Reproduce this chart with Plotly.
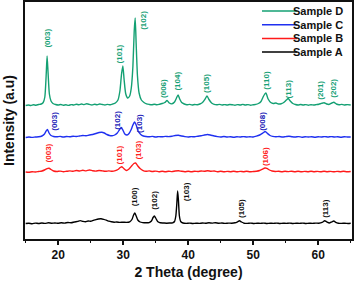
import plotly.graph_objects as go

# ---------------- data (2θ in degrees, intensity in a.u. above each pattern's own baseline) ----------------
sample_names = ["Sample D", "Sample C", "Sample B", "Sample A"]

pattern_D = [(15.0,0.5),(15.4,1.0),(15.8,0.5),(16.2,1.2),(16.6,0.8),(17.0,1.5),(17.4,2.0),(17.7,3.5),(17.95,9),
    (18.15,30),(18.3,50),(18.45,33),(18.65,12),(18.9,5),(19.2,2.5),(19.6,1.5),(20.0,1.0),(20.4,1.5),(20.8,0.8),
    (21.2,1.2),(21.6,0.6),(22.0,1.4),(22.4,1.0),(22.8,1.8),(23.2,1.2),(23.6,2.0),(24.0,1.4),(24.4,2.2),(24.8,1.6),
    (25.2,1.0),(25.6,1.8),(26.0,1.2),(26.4,2.0),(26.8,1.5),(27.2,1.0),(27.6,1.6),(28.0,1.2),(28.4,2.0),(28.8,3.0),
    (29.2,6),(29.5,15),(29.75,32),(29.95,40),(30.15,26),(30.4,12),(30.7,8),(31.0,10),(31.25,18),(31.5,40),
    (31.7,75),(31.85,88),(32.0,62),(32.2,30),(32.45,13),(32.8,6),(33.2,3.5),(33.6,2.2),(34.0,1.6),(34.4,1.2),
    (34.8,1.8),(35.2,1.2),(35.6,1.8),(36.0,2.5),(36.4,3.5),(36.75,5.5),(37.1,3.0),(37.5,2.2),(37.9,4.0),(38.2,8),
    (38.45,11),(38.7,7),(39.0,3.5),(39.4,2.0),(39.8,1.2),(40.2,1.6),(40.6,1.0),(41.0,1.5),(41.4,1.2),(41.8,2.0),
    (42.2,3.5),(42.6,7),(42.9,10),(43.2,6.5),(43.6,3.0),(44.0,1.6),(44.4,1.2),(44.8,1.6),(45.2,1.0),(45.6,1.4),
    (46.0,1.0),(46.4,1.5),(46.8,1.2),(47.2,0.8),(47.6,1.4),(48.0,1.0),(48.4,1.6),(48.8,1.0),(49.2,1.4),(49.6,0.8),
    (50.0,1.2),(50.4,1.6),(50.8,2.5),(51.2,4.5),(51.6,10),(51.95,13),(52.3,7),(52.7,3.5),(53.1,2.5),(53.5,3.0),
    (53.9,2.0),(54.3,2.2),(54.7,3.5),(55.1,6),(55.4,7.5),(55.7,5),(56.1,2.5),(56.5,1.5),(56.9,1.0),(57.3,1.5),
    (57.7,1.0),(58.1,1.4),(58.5,0.8),(58.9,1.3),(59.3,1.0),(59.7,1.4),(60.1,1.8),(60.5,2.6),(60.9,3.2),(61.3,2.0),
    (61.7,1.6),(62.1,3.0),(62.4,3.8),(62.8,2.0),(63.2,1.2),(63.6,1.6),(64.0,1.0),(64.5,1.4),(65.0,1.0)]

pattern_C = [(15.0,0.5),(15.5,1.0),(16.0,0.6),(16.5,1.0),(17.0,1.2),(17.5,2.0),(17.9,4.0),(18.15,7),(18.35,8.5),
    (18.6,5),(18.9,2.5),(19.3,1.5),(19.8,1.2),(20.3,1.6),(20.8,1.0),(21.3,1.5),(21.8,1.2),(22.3,1.8),(22.8,1.5),
    (23.3,2.0),(23.8,2.5),(24.3,2.2),(24.8,3.0),(25.3,3.5),(25.8,4.5),(26.3,5.5),(26.7,5.8),(27.1,5.0),(27.5,3.5),
    (27.9,2.5),(28.3,2.2),(28.7,3.0),(29.1,5),(29.45,8.5),(29.7,10.5),(29.95,8),(30.25,4),(30.6,3),(30.9,4.5),
    (31.2,8),(31.5,13),(31.75,16),(32.0,13),(32.3,7),(32.7,3.5),(33.1,2.0),(33.5,1.5),(34.0,1.2),(34.5,1.6),
    (35.0,1.0),(35.5,1.4),(36.0,1.2),(36.5,1.6),(37.0,1.4),(37.5,1.8),(38.0,2.5),(38.5,2.8),(39.0,2.0),(39.5,1.4),
    (40.0,1.0),(40.5,1.4),(41.0,1.2),(41.5,1.8),(42.0,2.2),(42.5,3.0),(43.0,3.5),(43.5,2.8),(44.0,2.0),(44.5,1.4),
    (45.0,1.0),(45.5,1.5),(46.0,1.0),(46.5,1.3),(47.0,0.8),(47.5,1.2),(48.0,1.0),(48.5,1.4),(49.0,1.0),(49.5,1.3),
    (50.0,1.0),(50.5,1.8),(51.0,3.0),(51.5,5.0),(51.85,6.5),(52.2,4.5),(52.6,2.5),(53.0,1.6),(53.5,1.2),(54.0,1.5),
    (54.5,1.0),(55.0,1.4),(55.5,1.8),(56.0,1.2),(56.5,1.0),(57.0,1.4),(57.5,0.8),(58.0,1.2),(58.5,1.0),(59.0,1.3),
    (59.5,0.8),(60.0,1.2),(60.5,1.0),(61.0,1.4),(61.5,1.0),(62.0,1.4),(62.5,1.0),(63.0,1.2),(63.5,0.8),(64.0,1.2),
    (64.5,1.0),(65.0,1.0)]

pattern_B = [(15.0,0.5),(15.5,0.2),(16.0,0.8),(16.5,0.5),(17.0,1.0),(17.5,1.5),(17.9,2.5),(18.3,3.8),(18.6,4.2),
    (18.9,3.0),(19.3,1.5),(19.8,1.0),(20.3,1.4),(20.8,0.8),(21.3,1.2),(21.8,1.6),(22.3,1.2),(22.8,2.0),(23.3,1.5),
    (23.8,2.2),(24.3,1.6),(24.8,2.5),(25.3,1.8),(25.8,1.4),(26.3,2.0),(26.8,1.6),(27.3,1.2),(27.8,1.6),(28.3,1.2),
    (28.8,1.8),(29.2,3.0),(29.55,5.0),(29.8,5.8),(30.1,4.0),(30.5,2.0),(30.9,3.5),(31.3,6.5),(31.65,9),(31.9,9.5),
    (32.2,7),(32.6,4),(33.0,2.2),(33.5,1.2),(34.0,1.6),(34.5,1.0),(35.0,1.4),(35.5,0.8),(36.0,1.2),(36.5,0.8),
    (37.0,1.3),(37.5,0.9),(38.0,1.5),(38.5,1.8),(39.0,1.2),(39.5,0.8),(40.0,1.2),(40.5,0.8),(41.0,1.3),(41.5,1.0),
    (42.0,1.5),(42.5,1.2),(43.0,1.8),(43.5,1.2),(44.0,1.5),(44.5,0.8),(45.0,1.2),(45.5,0.7),(46.0,1.1),(46.5,0.8),
    (47.0,1.2),(47.5,0.7),(48.0,1.1),(48.5,0.8),(49.0,1.2),(49.5,0.7),(50.0,1.0),(50.5,1.3),(51.0,2.0),(51.4,3.2),
    (51.8,4.5),(52.1,4.2),(52.5,2.5),(52.9,1.5),(53.4,1.0),(53.9,1.3),(54.4,0.8),(54.9,1.2),(55.4,0.9),(55.9,1.3),
    (56.4,0.8),(56.9,1.2),(57.4,0.7),(57.9,1.1),(58.4,0.8),(58.9,1.2),(59.4,0.8),(59.9,1.1),(60.4,0.7),(60.9,1.2),
    (61.4,0.8),(61.9,1.1),(62.4,0.7),(62.9,1.1),(63.4,0.8),(63.9,1.2),(64.4,0.8),(65.0,1.0)]

pattern_A = [(15.0,0.5),(15.5,0.8),(16.0,0.3),(16.5,0.9),(17.0,0.5),(17.5,1.0),(18.0,0.6),(18.5,1.2),(19.0,0.8),
    (19.5,1.0),(20.0,0.7),(20.5,1.2),(21.0,0.9),(21.5,1.5),(22.0,1.2),(22.5,2.0),(23.0,2.6),(23.4,3.4),(23.8,2.6),
    (24.2,2.2),(24.6,3.0),(25.0,2.8),(25.4,3.6),(25.8,4.4),(26.2,5.0),(26.6,5.2),(27.0,4.6),(27.4,3.8),(27.8,2.8),
    (28.2,2.2),(28.6,1.8),(29.0,2.0),(29.5,1.6),(30.0,1.8),(30.5,1.6),(31.0,2.2),(31.35,4.5),(31.6,9),(31.8,11),
    (32.0,8),(32.25,4),(32.6,2.0),(33.0,1.4),(33.5,1.2),(34.0,1.4),(34.35,3.0),(34.6,6.5),(34.8,8),(35.0,6),
    (35.3,2.5),(35.7,1.2),(36.2,1.0),(36.7,0.8),(37.2,1.0),(37.6,1.2),(37.9,2.5),(38.1,8),(38.25,20),(38.38,33),
    (38.5,24),(38.65,8),(38.85,2.5),(39.2,1.0),(39.7,0.6),(40.2,0.9),(40.7,0.5),(41.2,0.8),(41.7,0.6),(42.2,1.0),
    (42.7,0.8),(43.2,1.2),(43.7,0.9),(44.2,1.3),(44.7,0.7),(45.2,1.0),(45.7,0.6),(46.2,0.9),(46.7,0.8),(47.2,1.2),
    (47.6,2.2),(47.9,3.2),(48.2,2.0),(48.6,0.8),(49.1,0.6),(49.6,0.9),(50.1,0.5),(50.6,0.8),(51.1,0.6),(51.6,0.9),
    (52.1,0.5),(52.6,0.8),(53.1,0.6),(53.6,0.9),(54.1,0.5),(54.6,0.8),(55.1,0.6),(55.6,0.9),(56.1,0.5),(56.6,0.8),
    (57.1,0.6),(57.6,0.9),(58.1,0.5),(58.6,0.8),(59.1,0.6),(59.6,0.9),(60.1,0.8),(60.6,1.6),(61.0,3.2),(61.3,2.2),
    (61.7,1.0),(62.1,2.2),(62.4,3.0),(62.7,1.6),(63.1,0.8),(63.6,0.6),(64.1,0.8),(64.6,0.5),(65.0,0.7)]

patterns = [pattern_D, pattern_C, pattern_B, pattern_A]

# peak labels: (2θ, intensity position above baseline, Miller index)
labels_D = [(18.3,56,"(003)"),(29.5,41,"(101)"),(33.1,74,"(102)"),(36.2,6,"(006)"),(38.3,13,"(104)"),
            (42.8,11,"(105)"),(52.0,14,"(110)"),(55.5,6,"(113)"),(60.3,4,"(201)"),(62.3,6,"(202)")]
labels_C = [(19.4,5,"(003)"),(29.1,6,"(102)"),(32.5,3,"(103)"),(51.4,5,"(008)")]
labels_B = [(18.5,8,"(003)"),(29.5,6.5,"(101)"),(32.3,10.5,"(103)"),(51.9,4.5,"(106)")]
labels_A = [(31.8,16,"(100)"),(34.8,12,"(102)"),(39.8,21,"(103)"),(48.2,4,"(105)"),(61.1,4,"(113)")]
peak_labels = [labels_D, labels_C, labels_B, labels_A]

# ---------------- styling ----------------
offsets = [133, 101, 66.5, 15]
line_colors = ["#14a073", "#1f30f0", "#ff1a1a", "#000000"]
label_colors = ["#17a176", "#2424b8", "#ff2020", "#111111"]
FONT = "Liberation Sans, Arial, sans-serif"

fig = go.Figure()
annotations = []
for name, pat, off, col, lcol, labs in zip(sample_names, patterns, offsets, line_colors, label_colors, peak_labels):
    xs = [p[0] for p in pat]
    ys = [p[1] + off for p in pat]
    fig.add_trace(go.Scatter(x=xs, y=ys, mode="lines", name=name,
                             line=dict(color=col, width=1.4, shape="spline", smoothing=0.6),
                             showlegend=False))
    for tx, ty, txt in labs:
        annotations.append(dict(x=tx, y=ty + off, xref="x", yref="y", text=txt, showarrow=False,
                                textangle=-90, xanchor="center", yanchor="bottom",
                                font=dict(family=FONT, size=8, color=lcol, weight="bold")))

# manual legend (compact rows like the reference)
PLOT_L, PLOT_R, PLOT_T, PLOT_B = 25, 352, 2, 239
def px_x(px):
    return (px - PLOT_L) / (PLOT_R - PLOT_L)
def px_y(py):
    return (PLOT_B - py) / (PLOT_B - PLOT_T)

shapes = []
for i, (name, col) in enumerate(zip(sample_names, line_colors)):
    row_y = 11 + i * 13.7
    shapes.append(dict(type="line", xref="paper", yref="paper", x0=px_x(262), x1=px_x(297),
                       y0=px_y(row_y), y1=px_y(row_y), line=dict(color=col, width=1.5)))
    annotations.append(dict(x=px_x(351), y=px_y(row_y), xref="paper", yref="paper", text=name,
                            showarrow=False, xanchor="right", yanchor="middle", width=56, align="left",
                            font=dict(family=FONT, size=11, color="#111111", weight="bold")))

fig.update_layout(
    width=354, height=281,
    margin=dict(l=25, r=2, t=2, b=42, autoexpand=False),
    paper_bgcolor="white", plot_bgcolor="white",
    showlegend=False,
    annotations=annotations,
    shapes=shapes,
    font=dict(family=FONT, color="#111111"),
)
fig.update_xaxes(range=[14.9, 65.2], showline=True, linecolor="#111111", linewidth=1.5, mirror=True,
                 automargin=False,
                 showgrid=False, zeroline=False, ticks="outside", ticklen=4, tickwidth=1.5, tickcolor="#111111",
                 tick0=0, dtick=10,
                 minor=dict(ticks="outside", ticklen=2, tickwidth=1, tickcolor="#111111", dtick=5, showgrid=False),
                 tickfont=dict(family=FONT, size=12, color="#111111", weight="bold"),
                 title=dict(text="2 Theta (degree)", standoff=6,
                            font=dict(family=FONT, size=14, color="#111111", weight="bold")))
fig.update_yaxes(range=[0, 237], showline=True, linecolor="#111111", linewidth=1.5, mirror=True,
                 automargin=False,
                 showgrid=False, zeroline=False, showticklabels=False, ticks="",
                 title=dict(text="Intensity (a.u)", standoff=5,
                            font=dict(family=FONT, size=14, color="#111111", weight="bold")))

# remove the browser's default 8px page margin so the 354x281 figure fills the window exactly
fig.write_html("out.html",
               config={"displayModeBar": False},
               post_script="document.body.style.margin='0';document.body.style.overflow='hidden';")
